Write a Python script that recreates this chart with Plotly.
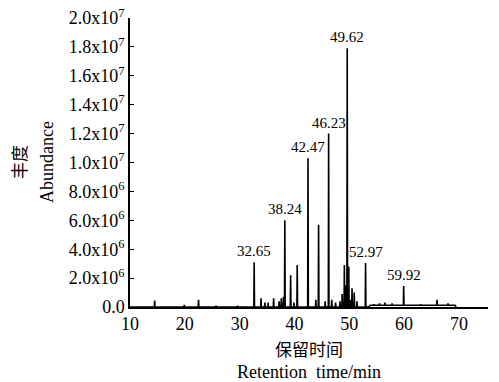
import plotly.graph_objects as go

# Peak retention times (min) and heights (abundance)
peak_times = [14.5, 19.9, 22.5, 25.7, 29.6, 32.65, 33.9, 34.6, 35.2, 36.2, 37.2, 37.6, 38.0,
              38.24, 39.3, 39.9, 40.5, 42.47, 43.9, 44.4, 45.6, 46.23, 46.8, 47.5, 48.3,
              48.7, 49.1, 49.3, 49.62, 49.9, 50.2, 50.5, 50.9, 51.4, 52.97, 54.5, 55.5,
              56.5, 57.8, 59.92, 63.0, 66.0, 68.0]
peak_heights = [0.45e6, 0.15e6, 0.5e6, 0.1e6, 0.1e6, 3.1e6, 0.6e6, 0.3e6, 0.3e6, 0.6e6, 0.4e6,
                0.6e6, 0.7e6, 6.0e6, 2.2e6, 0.3e6, 2.9e6, 10.3e6, 0.5e6, 5.7e6, 0.4e6,
                12.0e6, 0.5e6, 0.3e6, 0.4e6, 0.9e6, 2.9e6, 1.5e6, 17.9e6, 2.8e6, 0.5e6, 1.3e6,
                1.0e6, 0.4e6, 3.05e6, 0.2e6, 0.25e6, 0.3e6, 0.25e6, 1.45e6, 0.2e6, 0.5e6, 0.25e6]
labeled_times = [32.65, 38.24, 42.47, 46.23, 49.62, 52.97, 59.92]
labels = ["32.65", "38.24", "42.47", "46.23", "49.62", "52.97", "59.92"]

# baseline drift region (late elution)
drift_start, drift_end, drift_level = 53.5, 69.3, 0.12e6
run_start, run_end = 10.0, 69.5

y_tickvals = [0, 2e6, 4e6, 6e6, 8e6, 1e7, 1.2e7, 1.4e7, 1.6e7, 1.8e7, 2e7]
y_ticktext = ["0.0", "2.0x10<sup>6</sup>", "4.0x10<sup>6</sup>", "6.0x10<sup>6</sup>",
              "8.0x10<sup>6</sup>", "1.0x10<sup>7</sup>", "1.2x10<sup>7</sup>",
              "1.4x10<sup>7</sup>", "1.6x10<sup>7</sup>", "1.8x10<sup>7</sup>",
              "2.0x10<sup>7</sup>"]
x_tickvals = [10, 20, 30, 40, 50, 60, 70]

half_w = 0.06


def baseline(t):
    if drift_start <= t <= drift_end:
        return drift_level
    return 0.0


pts = [(run_start, 0.0), (drift_start, 0.0), (drift_start + 0.3, drift_level),
       (drift_end, drift_level), (run_end, 0.0)]
for t, h in zip(peak_times, peak_heights):
    b = baseline(t)
    pts += [(t - half_w, b), (t, h), (t + half_w, b)]
pts = sorted(pts)
xs = [p[0] for p in pts]
ys = [p[1] for p in pts]

fig = go.Figure()
fig.add_trace(go.Scatter(x=xs, y=ys, mode="lines",
                         line=dict(color="black", width=1.6), hoverinfo="skip"))

font_family = "Liberation Serif"
cjk = "Noto Sans CJK SC"
for t, lab in zip(labeled_times, labels):
    h = peak_heights[peak_times.index(t)]
    fig.add_annotation(x=t, y=h, text=lab, showarrow=False, yanchor="bottom",
                       yshift=1, font=dict(size=15, color="black", family=font_family))

# axis titles placed as paper annotations (plot area spans x 130..488, y 18..307 px)
W, H = 499, 382
L, R, T, B = 130, 11, 18, 75
pw, ph = W - L - R, H - T - B


def px_x(px):
    return (px - L) / pw


def px_y(py):
    return (H - B - py) / ph


fig.add_annotation(xref="paper", yref="paper", x=px_x(309), y=px_y(348), text="保留时间",
                   showarrow=False, font=dict(size=17, family=cjk, color="black"),
                   xanchor="center", yanchor="middle")
fig.add_annotation(xref="paper", yref="paper", x=px_x(309), y=px_y(372), text="Retention  time/min",
                   showarrow=False, font=dict(size=18, family=font_family, color="black"),
                   xanchor="center", yanchor="middle")
fig.add_annotation(xref="paper", yref="paper", x=px_x(18), y=px_y(162), text="丰度",
                   showarrow=False, textangle=-90, font=dict(size=17, family=cjk, color="black"),
                   xanchor="center", yanchor="middle")
fig.add_annotation(xref="paper", yref="paper", x=px_x(47), y=px_y(162), text="Abundance",
                   showarrow=False, textangle=-90, font=dict(size=18, family=font_family, color="black"),
                   xanchor="center", yanchor="middle")

fig.update_layout(
    width=W, height=H,
    margin=dict(l=L, r=R, t=T, b=B, autoexpand=False),
    paper_bgcolor="white", plot_bgcolor="white",
    showlegend=False,
    font=dict(family=font_family, color="black", size=16),
    xaxis=dict(range=[10, 75.3], tickvals=x_tickvals, showgrid=False, zeroline=False,
               showline=True, linecolor="black", linewidth=1.5, ticks="", automargin=False,
               tickfont=dict(size=18, family=font_family)),
    yaxis=dict(range=[0, 2.0e7], tickvals=y_tickvals, ticktext=y_ticktext, showgrid=False,
               zeroline=False, showline=True, linecolor="black", linewidth=1.5, automargin=False,
               ticks="inside", ticklen=4, tickcolor="black", tickwidth=1.3,
               tickfont=dict(size=18, family=font_family)),
)

fig.write_html("out.html")
